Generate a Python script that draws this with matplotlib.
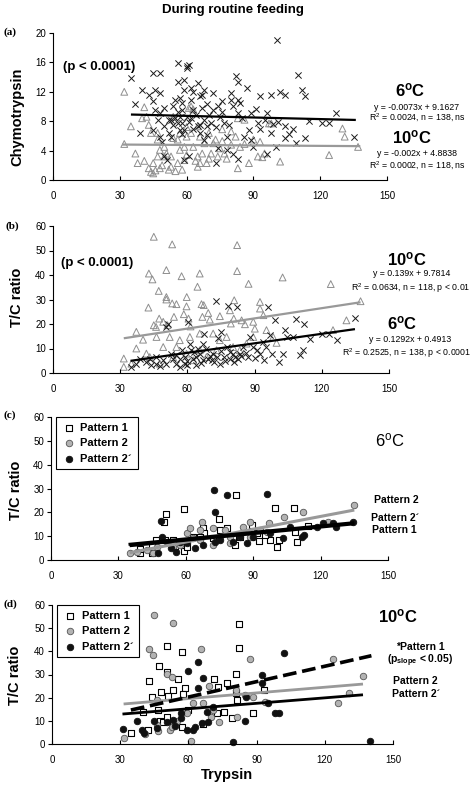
import numpy as np
import matplotlib.pyplot as plt

plt.rcParams['font.family'] = ['Liberation Sans', 'DejaVu Sans']
plt.rcParams['mathtext.fontset'] = 'custom'
plt.rcParams['mathtext.rm'] = 'Liberation Sans'
plt.rcParams['mathtext.bf'] = 'Liberation Sans:bold'
plt.rcParams['mathtext.it'] = 'Liberation Sans:italic'

# ---- data ----
xticks = [0, 30, 60, 90, 120, 150]

# (a) chymotrypsin vs trypsin
a_6c = [(35, 13.9), (37, 10.3), (39, 6.4), (40, 12.3), (43, 11.6), (45, 10.7), (45, 14.5),
        (48, 14.6), (46, 12.3), (48, 11.8), (45, 6.8), (46, 9.5), (48, 9.1), (50, 7.3),
        (48, 5.9), (49, 5.2), (50, 3.2), (51, 2.7), (53, 5.9), (52, 8.2), (54, 10), (55, 10.9),
        (56, 15.9), (56, 13.4), (59, 13.6), (60, 15.5), (61, 15.7), (60, 15.2), (59, 12.3),
        (62, 12.5), (58, 10.5), (58, 9.5), (57, 8.6), (55, 8.4), (53, 8.2), (56, 7.7),
        (58, 7.7), (60, 8.6), (59, 6.8), (57, 6.8), (62, 8.4), (63, 9.5), (62, 10.9),
        (65, 13.2), (66, 11.4), (68, 12.3), (67, 11.6), (65, 7.3), (66, 6.4), (68, 5.5),
        (69, 7.3), (68, 8.2), (71, 7.7), (72, 9.5), (72, 11.8), (74, 10), (75, 8.6),
        (76, 10.7), (77, 7.7), (78, 5.9), (80, 11.8), (80, 10.9), (81, 10), (82, 14.1),
        (83, 13.4), (84, 10.5), (83, 10.9), (83, 9.1), (87, 12.5), (86, 5.9), (88, 6.8),
        (89, 9.1), (89, 5.5), (92, 7.7), (93, 11.4), (93, 7), (96, 9.1), (96, 3.6), (98, 6.4),
        (98, 11.6), (99, 7.6), (100, 4.5), (100.6, 19), (102, 12), (104, 11.6), (104, 7.3),
        (104, 5.7), (108, 7), (109, 5), (110, 14.3), (112, 12.3), (113, 11.4), (113, 5.7),
        (115, 8), (121, 7.7), (124, 7.7), (127, 9.1), (135, 5.9), (78, 4.1), (74, 4.3),
        (73, 2.3), (83, 2.9), (90, 4.5), (81, 3.6), (61, 3.2), (59, 2.7), (54, 7.5), (56, 9.2),
        (58, 6.2), (61, 7.9), (63, 6.9), (64, 8.9), (66, 7.5), (67, 9.8), (69, 6.1), (70, 8.8),
        (73, 7.2), (52, 6.4), (50, 9.8), (47, 8.1), (57, 11.2), (63, 12), (69, 10.3),
        (76, 9.2), (79, 7.5), (85, 8.4), (91, 9.6), (95, 8.2), (101, 7.9), (106, 6.2)]
a_10c = [(32, 12), (32, 4.9), (35, 7.3), (37, 3.6), (38, 2.3), (40, 8.4), (41, 9.9), (41, 2.6),
         (42, 8.6), (43, 7.5), (43, 1.6), (44, 1.1), (45, 0.9), (45, 2.3), (47, 5.5), (47, 3.2),
         (48, 1.6), (50, 3.2), (50, 4.5), (52, 1.4), (53, 1.8), (54, 5.7), (56, 5.5), (57, 4.1),
         (58, 1.4), (59, 2.7), (59, 4.5), (61, 9.8), (62, 10), (63, 4.5), (65, 3.2), (65, 1.8),
         (66, 2.3), (67, 3.6), (68, 5), (69, 2.3), (71, 3.6), (72, 5), (74, 3.2), (75, 4.3),
         (77, 3.6), (78, 2.9), (80, 4.8), (80, 6.6), (82, 5.9), (83, 1.6), (84, 4.5), (86, 8.2),
         (88, 2.3), (90, 5.5), (92, 3.2), (95, 3.6), (97, 7.7), (98, 7.7), (102, 2.5), (124, 3.4),
         (130, 7), (131, 5.9), (137, 4.5), (54, 8.6), (57, 6.4), (60, 5.9), (62, 6.4), (66, 5.9),
         (70, 6.4), (73, 5.5), (65, 7.3), (44, 6.4), (47, 6.4), (48, 4.1), (51, 3.6), (53, 3.2),
         (56, 2.3), (46, 1.3), (49, 2.0), (55, 1.2), (60, 3.4), (64, 2.6), (70, 2.9), (76, 5.3),
         (86, 4.9), (94, 3.1), (63, 9.6), (60, 7.2), (76, 6.9), (83, 8.4), (93, 5.2)]

# (b) T/C ratio vs trypsin
b_10c = [(45, 55.6), (53.2, 52.5), (82.2, 52.2), (82.2, 41.6), (42.8, 40.6), (44.4, 38.2),
         (50.6, 42), (57.4, 39.5), (65.5, 40.6), (102.5, 39), (124, 36.3), (87.3, 36.4),
         (64.5, 35.2), (47.2, 33.5), (59.7, 31), (50.6, 31), (50.6, 30), (53.2, 28.4),
         (55.1, 28.1), (66.3, 28.1), (67.3, 27.7), (42.6, 26.7), (80.9, 29.7), (92.4, 29),
         (92.4, 26.3), (137.3, 29.3), (131, 21.5), (54, 22.9), (47.4, 22.2), (45, 19.5),
         (37.2, 16.8), (40.2, 13.6), (58.4, 24), (60.5, 22.2), (61.4, 19), (49.2, 20.9),
         (51.1, 19.5), (66.7, 22.9), (69.3, 24.5), (70, 21.8), (74.5, 23.2), (79, 25.6),
         (80.7, 22.2), (79.4, 20.2), (84.2, 21.5), (85.7, 19.9), (89.4, 20.9), (90.1, 18.1),
         (93.9, 23.6), (95.3, 17.5), (98.3, 14.7), (99.8, 12.3), (125, 17.5), (31.6, 5.9),
         (31.6, 2.5), (37.2, 10), (41.7, 7.9), (46.2, 14.7), (52.1, 14.7), (56.6, 13.4),
         (61.1, 14.7), (65.5, 16.1), (71.5, 16.1), (74.5, 13.4), (77.5, 14.7), (80.4, 10.6),
         (83.4, 9.3), (86.4, 12), (49.2, 10.6), (55.1, 10.6), (59.6, 7.9), (65.5, 9.3),
         (68.5, 6.5), (73, 9.3), (43.2, 6.5), (47.7, 3.8), (53.6, 6.5), (62.6, 5.2), (35, 3.8),
         (89.4, 14.7), (59.6, 27.2), (46, 18.8)]
b_6c = [(34.6, 2.5), (37.2, 3.8), (38.7, 5.9), (41.7, 4.5), (43.9, 3.1), (46.2, 3.8), (47.7, 2.7),
        (49.2, 5.2), (50.6, 18.8), (51.4, 20.2), (53.6, 5.9), (54.8, 3.8), (56.6, 5.9),
        (58.8, 6.5), (59.6, 3.1), (60.3, 20.9), (61.1, 12), (61.8, 9.3), (64, 6.5), (65.5, 7.9),
        (67, 12), (67.3, 15.8), (69.3, 5.9), (71.5, 7.9), (72.7, 29.5), (73.7, 14.3),
        (74.8, 16.8), (76.3, 6.5), (78.2, 27.3), (82, 27), (77.5, 10.6), (80.4, 7.9),
        (81.2, 6.5), (82.7, 5.9), (85, 10.6), (87.8, 14.7), (89.4, 10.6), (92.4, 7.9),
        (93.9, 12.7), (96.1, 27), (96.8, 15.4), (97.6, 7.9), (99, 21.5), (101, 4.5),
        (102.8, 7.9), (103.5, 17.5), (104.3, 14.7), (107.3, 14.7), (108.5, 22.2), (110.2, 7.2),
        (111.7, 9.3), (112.2, 19.9), (114.7, 14), (120, 16.1), (123, 15.8), (127, 13.4),
        (134.8, 22.6), (50.6, 3.8), (52.8, 7.9), (57.4, 9.3), (62.6, 5.9), (64.8, 10),
        (68.5, 10), (70.8, 5.2), (73, 6.5), (74.5, 3.8), (79, 5.9), (83.4, 7.9), (87.1, 6.5),
        (58.8, 3.8), (67, 5.2), (64, 3.1), (56.6, 2.5), (46.2, 6.5), (43.2, 5.9), (55, 7.2),
        (60, 5.0), (63, 8.4), (66, 4.2), (70, 7.1), (72, 4.5), (75, 8.9), (77, 4.9), (79, 8.6),
        (81, 4.6), (84, 6.8), (86, 8.3), (90, 6.1), (91, 9.4), (94, 5.4), (95, 10.8)]

# (c) 6 C by pattern
c_p1 = [(50.3, 16.1), (51.1, 19.3), (59.4, 21.3), (82.3, 27.2), (74.8, 17.4), (78.2, 13.6),
        (99.7, 22), (108.1, 22), (109.7, 7.6), (100.4, 5.3), (101.6, 8.4), (97.4, 8.4),
        (92.4, 8.1), (95.2, 10.5), (91.5, 11.2), (89.3, 14.7), (89.1, 9.8), (67.5, 13.6),
        (68.1, 11.2), (63.4, 9.8), (59.4, 3.8), (60.4, 5.6), (50.8, 8.4), (46.6, 8.4),
        (45, 6.3), (45, 3.1), (39.7, 2.8), (39.7, 4.8), (54.5, 8.4), (55.2, 5.9), (72.3, 9.1),
        (81.1, 9.1), (81.9, 6.3), (84.1, 9.8), (108.5, 11.9), (114.5, 14.3), (66.3, 9.8),
        (75, 12.6)]
c_p2 = [(35, 2.8), (60.4, 11.2), (61.9, 13.3), (67.4, 16.1), (72.3, 13.3), (66.3, 12.6),
        (77.4, 12.6), (85.6, 14), (88.5, 16.1), (97.1, 15.7), (103.6, 17.9), (112, 20),
        (135, 22.9), (123.5, 16.1), (72.3, 6.3), (79.7, 7), (79.7, 9.8), (84.1, 10.5),
        (88.5, 9.8), (93, 12.6), (96, 11.9), (54.5, 5.6), (57.4, 6.3), (66.3, 8.4), (47.1, 5.6),
        (42.7, 4.2), (38.2, 3.5), (75.2, 9.8), (63.4, 9.1), (45.6, 2.8)]
c_p2b = [(49, 16.5), (49.3, 9.5), (72.6, 29.4), (73.2, 20.3), (78.2, 27.2), (96, 27.6), (87.1, 7),
         (67.8, 6.3), (64.1, 4.9), (55.7, 3.5), (53.3, 4.9), (47.7, 3.1), (103.3, 9.1),
         (111.5, 9.8), (112.5, 10.5), (127, 14), (121.1, 15.7), (125.6, 15.4), (134.4, 16.1),
         (60.4, 7), (73, 7.7), (81.1, 7.7), (84.1, 9.8), (75.2, 8.4), (57.4, 7.7), (51.5, 7.7),
         (90, 9.8), (97.4, 11.2), (106.3, 14), (118.2, 14)]

# (d) 10 C by pattern
d_p1 = [(34.7, 4.9), (42.4, 6), (42.7, 27.2), (47.1, 33.7), (50.8, 42.3), (50.5, 31.2),
        (57.1, 39.7), (55.3, 28.1), (82.1, 51.8), (82.4, 41.6), (80.8, 30.1), (76.8, 26.5),
        (72.9, 24.5), (71.3, 28.1), (58.5, 24), (53.4, 23.3), (47.9, 22.6), (43.9, 20.1),
        (50.9, 20.7), (40.2, 14), (47.6, 10.1), (49, 9.6), (50.8, 11.8), (53.4, 8.9),
        (57.1, 7.5), (59.9, 14.7), (66.6, 8.6), (72.5, 13.2), (75.7, 13.7), (79, 11.4),
        (81.2, 18.8), (80.9, 21.9), (88.5, 13.2), (93.4, 23.3), (46.8, 14.7), (57.5, 21.6)]
d_p2 = [(44.9, 55.7), (53.1, 52.1), (42.7, 40.9), (44.4, 38.4), (65.4, 40.9), (87.1, 36.8),
        (123.4, 36.5), (136.8, 29.4), (130.5, 21.9), (125.9, 17.8), (50.5, 30.2), (53, 28.8),
        (69.2, 25), (88.3, 20.4), (93.6, 18.3), (80.9, 23.3), (31.5, 2.4), (41, 4.3),
        (46.2, 8.2), (46.8, 5.8), (51.9, 6), (52.7, 7.5), (54.9, 10.1), (61, 1.3), (69.8, 11.8),
        (73.6, 9.6), (81.2, 11.8), (66.6, 17.6), (46.1, 19), (62.2, 17.6), (59.3, 13.2),
        (71, 14.7), (84.9, 21.2)]
d_p2b = [(31.2, 6.3), (37.3, 10.1), (39.5, 6), (40.5, 4.9), (45, 10.1), (46.4, 6.8), (50.5, 9.6),
         (53.4, 10.4), (54.1, 7.8), (56.9, 11.1), (56.9, 13.2), (59.5, 6), (61.9, 6), (62.9, 7.5),
         (64.1, 24), (64.4, 35.5), (59.7, 31.5), (66.6, 28.3), (65.9, 9.2), (68.8, 9.6),
         (70.7, 16.1), (68.4, 14), (79.8, 1), (84.9, 9.9), (85.3, 20.4), (94.8, 17.6),
         (92.2, 29.6), (92.2, 26.2), (98.2, 13.2), (99.9, 13.2), (102, 39.1), (140, 1.4)]

# regression lines: slope, intercept, x start, x end
a_fit_6c = (-0.0073, 9.1627, 35, 136)
a_fit_10c = (-0.002, 4.8838, 31, 138)
b_fit_10c = (0.139, 9.7814, 31.6, 137.3)
b_fit_6c = (0.1292, 0.4913, 34.6, 134.8)
c_fit_p2 = (0.179, -3.2, 35, 135)
c_fit_p2b = (0.0906, 3.43, 34.5, 135)
c_fit_p1 = (0.092, 2.78, 35, 135)
d_fit_p1 = (0.2216, 6.97, 34.7, 140.5)
d_fit_p2 = (0.0817, 14.7, 31.5, 136.8)
d_fit_p2b = (0.0785, 10.5, 31, 136.8)

W, H = 477, 786
GRAY = '#8e8e8e'


def fx(x):
    return x / W


def fy(y):
    return 1 - y / H


def ax_rect(l, t, r, b):
    return [fx(l), fy(b), (r - l) / W, (b - t) / H]


def setup(ax, ymax, ystep):
    ax.set_xlim(0, 150)
    ax.set_ylim(0, ymax)
    ax.set_xticks(xticks)
    ax.set_yticks(np.arange(0, ymax + 1, ystep))
    ax.spines['top'].set_visible(False)
    ax.spines['right'].set_visible(False)
    for s in ['left', 'bottom']:
        ax.spines[s].set_linewidth(0.8)
    ax.tick_params(axis='x', direction='in', length=3, width=0.8, labelsize=7, pad=8)
    ax.tick_params(axis='y', direction='out', length=3, width=0.8, labelsize=7, pad=2)


def fit_line(ax, fit, **kw):
    m, c, x0, x1 = fit
    xs = np.array([x0, x1])
    ax.plot(xs, m * xs + c, solid_capstyle='butt', **kw)


def xy(pts):
    a = np.array(pts)
    return a[:, 0], a[:, 1]


fig = plt.figure(figsize=(W / 100, H / 100), dpi=100)

# ---- (a) ----
ax = fig.add_axes(ax_rect(53, 33, 387, 180))
setup(ax, 20, 4)
x, y = xy(a_10c)
ax.scatter(x, y, marker='^', s=24, facecolors='none', edgecolors=GRAY, linewidths=0.7, clip_on=False)
x, y = xy(a_6c)
ax.scatter(x, y, marker='x', s=20, color='#1a1a1a', linewidths=0.7, clip_on=False)
fit_line(ax, a_fit_6c, color='black', lw=1.6)
fit_line(ax, a_fit_10c, color='#999999', lw=1.6)

# ---- (b) ----
ax = fig.add_axes(ax_rect(53, 226, 389, 373))
setup(ax, 60, 10)
x, y = xy(b_10c)
ax.scatter(x, y, marker='^', s=24, facecolors='none', edgecolors=GRAY, linewidths=0.7, clip_on=False)
x, y = xy(b_6c)
ax.scatter(x, y, marker='x', s=20, color='#1a1a1a', linewidths=0.7, clip_on=False)
fit_line(ax, b_fit_10c, color='#999999', lw=1.6)
fit_line(ax, b_fit_6c, color='black', lw=1.6)


def pattern_panel(rect, p1, p2, p2b):
    ax = fig.add_axes(rect)
    setup(ax, 60, 10)
    x, y = xy(p1)
    ax.scatter(x, y, marker='s', s=20, facecolors='white', edgecolors='black', linewidths=0.8,
               label='Pattern 1', clip_on=False)
    x, y = xy(p2)
    ax.scatter(x, y, marker='o', s=22, facecolors='#b3b3b3', edgecolors='#555555', linewidths=0.6,
               label='Pattern 2', clip_on=False)
    x, y = xy(p2b)
    ax.scatter(x, y, marker='o', s=22, facecolors='#111111', edgecolors='#111111', linewidths=0.6,
               label='Pattern 2\u00b4', clip_on=False)
    ax.legend(loc='upper left', bbox_to_anchor=(0.015, 1.0), borderaxespad=0, frameon=True,
              fancybox=False, edgecolor='black', framealpha=1, prop={'weight': 'bold', 'size': 8},
              handletextpad=0.4, handlelength=1.3, labelspacing=0.5, borderpad=0.5,
              markerscale=1.0).get_frame().set_linewidth(0.8)
    return ax


# ---- (c) ----
ax = pattern_panel(ax_rect(51, 417, 388, 560), c_p1, c_p2, c_p2b)
fit_line(ax, c_fit_p2, color='#999999', lw=2.2)
fit_line(ax, c_fit_p1, color='black', lw=2.2)
fit_line(ax, c_fit_p2b, color='black', lw=2.2)

# ---- (d) ----
ax = pattern_panel(ax_rect(52, 605, 393, 744), d_p1, d_p2, d_p2b)
fit_line(ax, d_fit_p2, color='#999999', lw=2.0)
fit_line(ax, d_fit_p2b, color='black', lw=2.0)
m, c, x0, x1 = d_fit_p1
xs = np.array([x0, x1])
ax.plot(xs, m * xs + c, color='black', lw=2.6, dashes=(3.8, 1.6))

# ---- texts ----
fig.text(fx(233), fy(10), 'During routine feeding', ha='center', va='center',
         fontsize=9.5, fontweight='bold')
for lab, (lx, ly) in zip(['(a)', '(b)', '(c)', '(d)'], [(10, 32), (12, 226), (10, 415), (10, 604)]):
    fig.text(fx(lx), fy(ly), lab, ha='center', va='center', fontsize=8, fontweight='bold',
             family='Liberation Serif')

for lab, (lx, ly) in zip(['Chymotrypsin', 'T/C ratio', 'T/C ratio', 'T/C ratio'],
                         [(17, 117), (17, 297), (16, 490), (15, 675)]):
    fig.text(fx(lx), fy(ly), lab, ha='center', va='center', rotation=90, fontsize=10.5,
             fontweight='bold')
fig.text(fx(227), fy(775), 'Trypsin', ha='center', va='center', fontsize=10.5, fontweight='bold')

pv = '(p < 0.0001)'
fig.text(fx(99), fy(67), pv, ha='center', va='center', fontsize=9.5, fontweight='bold')
fig.text(fx(97), fy(263), pv, ha='center', va='center', fontsize=9.5, fontweight='bold')


def deg(t, x, y, bold=True):
    s = t + (r'$^{\mathbf{o}}$' if bold else r'$^{\mathrm{o}}$') + 'C'
    fig.text(fx(x), fy(y), s, ha='center', va='center', fontsize=12,
             fontweight='bold' if bold else 'normal')


def eq(s, x, y):
    fig.text(fx(x), fy(y), s, ha='center', va='center', fontsize=6.3)


deg('6', 410, 90)
eq('y = -0.0073x + 9.1627', 417, 107)
eq('R$^2$ = 0.0024, n = 138, ns', 417, 118)
deg('10', 412, 137)
eq('y = -0.002x + 4.8838', 417, 154)
eq('R$^2$ = 0.0002, n = 118, ns', 417, 166)

deg('10', 407, 259)
eq('y = 0.139x + 9.7814', 412, 274)
eq('R$^2$ = 0.0634, n = 118, p < 0.01', 411, 288)
deg('6', 402, 323)
eq('y = 0.1292x + 0.4913', 410, 339)
eq('R$^2$ = 0.2525, n = 138, p < 0.0001', 407, 353)

deg('6', 390, 440, bold=False)
for s, (x, y) in zip(['Pattern 2', 'Pattern 2\u00b4', 'Pattern 1'], [(396, 500), (395, 518), (394, 530)]):
    fig.text(fx(x), fy(y), s, ha='center', va='center', fontsize=7.5, fontweight='bold')

deg('10', 398, 616)
fig.text(fx(420), fy(647), '*Pattern 1', ha='center', va='center', fontsize=7.5, fontweight='bold')
fig.text(fx(420), fy(661), r'(p$_{\mathbf{slope}}$ < 0.05)', ha='center', va='center',
         fontsize=7.5, fontweight='bold')
fig.text(fx(415), fy(681), 'Pattern 2', ha='center', va='center', fontsize=7.5, fontweight='bold')
fig.text(fx(416), fy(694), 'Pattern 2\u00b4', ha='center', va='center', fontsize=7.5, fontweight='bold')

fig.savefig('out.png', dpi=100)
